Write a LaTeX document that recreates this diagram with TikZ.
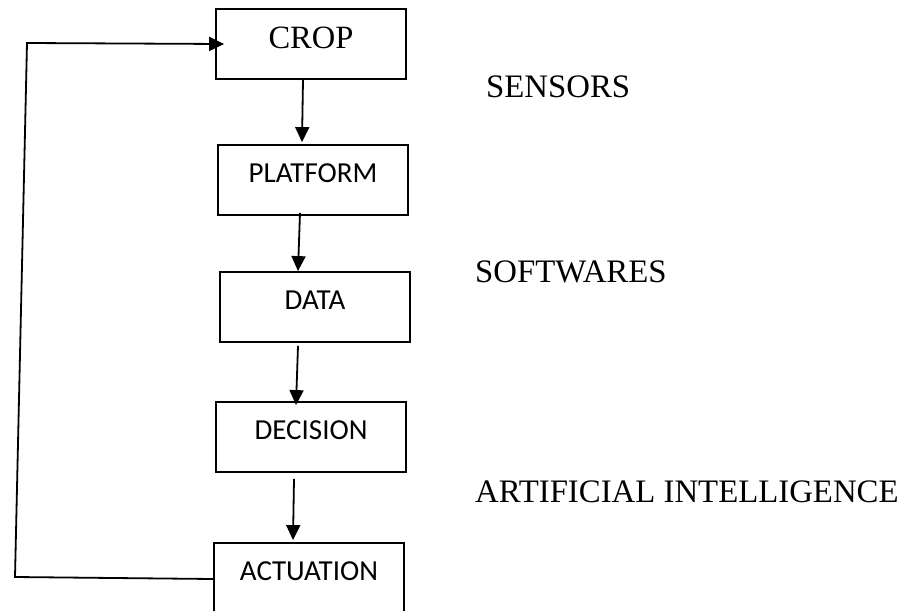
\documentclass[tikz,border=0pt]{standalone}
\usepackage{fontspec}
\setmainfont{Liberation Serif}
\newfontfamily\boxfont{Carlito}
\usepackage{tikz}
\usetikzlibrary{shapes,arrows.meta}
\tikzstyle{line} = [draw, -{Triangle[length=15pt,width=14pt]}, line width=1.8pt]

\begin{document}
\begin{tikzpicture}[x=1pt,y=-1pt]
\tikzstyle{stage} = [draw, line width=1.8pt, minimum width=190pt, minimum height=70pt,
  inner sep=0pt, font=\boxfont\fontsize{29}{32}\selectfont, text height=20pt, text depth=15pt]
\tikzstyle{ann} = [draw=none, fill=none, anchor=base west, inner sep=0pt,
  font=\fontsize{32.8}{36}\selectfont]
\useasboundingbox (0,0) rectangle (906,611);
\node[stage, font=\fontsize{32.5}{36}\selectfont, text height=22pt, text depth=13.5pt]
  (crop) at (311,44) {CROP};
\node[stage] (platform) at (313,180) {PLATFORM};
\node[stage] (data) at (315,307) {DATA};
\node[stage] (decision) at (311,437) {DECISION};
\node[stage] (actuation) at (309,578) {ACTUATION};
\node[ann] (sensors) at (486,97) {SENSORS};
\node[ann] (softwares) at (475,282) {SOFTWARES};
\node[ann] (ai) at (475,502) {ARTIFICIAL INTELLIGENCE};
\coordinate (loopbot) at (15,577);
\coordinate (looptop) at (27,43);
\path [line] ([xshift=-8pt]crop.south) -- ([xshift=-11pt,yshift=2pt]platform.north);
\path [line] ([xshift=-13pt,yshift=3pt]platform.south) -- ([xshift=-17pt]data.north);
\path [line] ([xshift=-17pt,yshift=-3pt]data.south) -- ([xshift=-15pt,yshift=-4pt]decision.north);
\path [line] ([xshift=-17pt,yshift=-6pt]decision.south) -- ([xshift=-16pt,yshift=2pt]actuation.north);
\path [line] ([yshift=-1pt]actuation.west) -- (loopbot) -- (looptop) -- ([xshift=9pt]crop.west);
\end{tikzpicture}
\end{document}
